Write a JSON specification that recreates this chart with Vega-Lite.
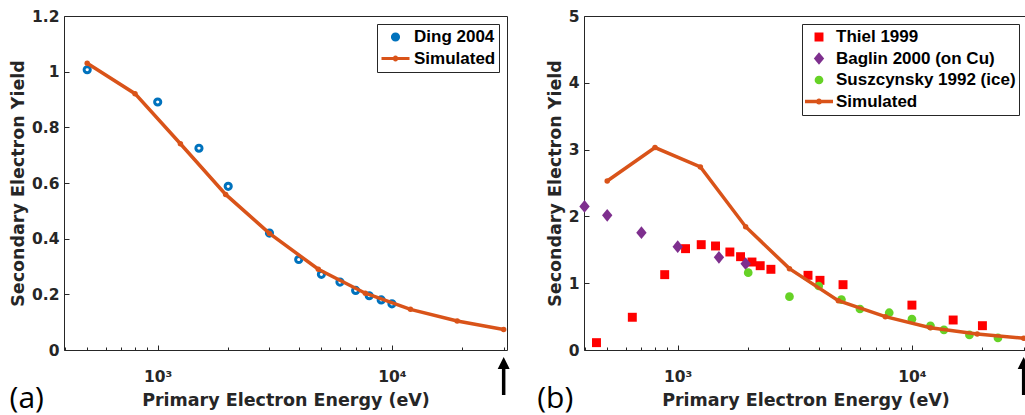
{
  "$schema": "https://vega.github.io/schema/vega-lite/v6.json",
  "padding": {"left": 9, "top": 8, "right": 0, "bottom": 0},
  "spacing": 24,
  "resolve": {"scale": {"color": "independent", "shape": "independent", "size": "independent", "x": "independent", "y": "independent"}, "legend": {"color": "independent"}},
  "config": {
    "font": "Liberation Sans",
    "view": {"stroke": "#262626", "strokeWidth": 1},
    "axis": {
      "domain": false, "grid": false,
      "tickColor": "#262626", "tickWidth": 1,
      "labelColor": "#262626", "labelFont": "DejaVu Sans", "labelFontWeight": "bold", "labelFontSize": 15.5,
      "titleColor": "#262626", "titleFont": "DejaVu Sans", "titleFontWeight": "bold", "titleFontSize": 17.5,
      "labelOverlap": false, "labelFlush": false, "labelBound": false
    },
    "legend": {
      "labelFont": "Liberation Sans", "labelFontWeight": "bold", "labelFontSize": 17, "labelColor": "black",
      "strokeColor": "#262626", "fillColor": "white", "padding": 3, "cornerRadius": 0,
      "labelOffset": 3, "symbolOffset": 0,
      "clipHeight": 20, "rowPadding": 1.5, "labelLimit": 400, "offset": 8, "orient": "top-right", "title": null
    }
  },
  "hconcat": [
    {
      "width": 443, "height": 334,
      "title": {"text": "(a)", "orient": "bottom", "anchor": "start", "frame": "bounds", "font": "Open Sans", "fontSize": 30, "fontWeight": "normal", "color": "black", "offset": -25},
      "resolve": {"axis": {"x": "independent", "y": "independent"}},
      "layer": [
        {
          "data": {"values": [
            {"E": 500, "Y": 1.007, "series": "Ding 2004"},
            {"E": 1000, "Y": 0.891, "series": "Ding 2004"},
            {"E": 1500, "Y": 0.725, "series": "Ding 2004"},
            {"E": 2000, "Y": 0.588, "series": "Ding 2004"},
            {"E": 3000, "Y": 0.42, "series": "Ding 2004"},
            {"E": 4000, "Y": 0.325, "series": "Ding 2004"},
            {"E": 5000, "Y": 0.272, "series": "Ding 2004"},
            {"E": 6000, "Y": 0.244, "series": "Ding 2004"},
            {"E": 7000, "Y": 0.214, "series": "Ding 2004"},
            {"E": 8000, "Y": 0.195, "series": "Ding 2004"},
            {"E": 9000, "Y": 0.18, "series": "Ding 2004"},
            {"E": 10000, "Y": 0.166, "series": "Ding 2004"}
          ]},
          "mark": {"type": "point", "filled": false, "strokeWidth": 3, "opacity": 1},
          "encoding": {
            "x": {"field": "E", "type": "quantitative", "scale": {"type": "log", "domain": [398, 31000], "nice": false},
              "axis": {"orient": "bottom", "values": [400,500,600,700,800,900,1000,2000,3000,4000,5000,6000,7000,8000,9000,10000,20000,30000],
                "labelExpr": "datum.value == 1000 ? '10³' : datum.value == 10000 ? '10⁴' : ''",
                "tickSize": {"condition": {"test": "datum.value == 1000 || datum.value == 10000", "value": -5}, "value": -3},
                "labelPadding": 24, "title": "Primary Electron Energy (eV)", "titlePadding": 5}},
            "y": {"field": "Y", "type": "quantitative", "scale": {"domain": [0, 1.2], "nice": false, "zero": false},
              "axis": {"orient": "left", "values": [0, 0.2, 0.4, 0.6, 0.8, 1, 1.2], "format": "~g", "tickSize": -5, "labelPadding": 10,
                "title": "Secondary Electron Yield", "titlePadding": 4}},
            "color": {"field": "series", "type": "nominal",
              "scale": {"domain": ["Ding 2004", "Simulated"], "range": ["#0072BD", "#D95319"]},
              "legend": {"symbolStrokeWidth": 3}},
            "shape": {"field": "series", "type": "nominal", "legend": null,
              "scale": {"domain": ["Ding 2004", "Simulated"], "range": ["circle", "M-1,0H1M0.1,0A0.1,0.1 0 1 1 -0.1,0A0.1,0.1 0 1 1 0.1,0"]}},
            "size": {"field": "series", "type": "nominal", "legend": null,
              "scale": {"type": "ordinal", "domain": ["Ding 2004", "Simulated"], "range": [38, 784]}}
          }
        },
        {
          "data": {"values": [
            {"E": 500, "Y": 1.03, "series": "Simulated"},
            {"E": 800, "Y": 0.921, "series": "Simulated"},
            {"E": 1250, "Y": 0.741, "series": "Simulated"},
            {"E": 1950, "Y": 0.559, "series": "Simulated"},
            {"E": 3000, "Y": 0.419, "series": "Simulated"},
            {"E": 4850, "Y": 0.29, "series": "Simulated"},
            {"E": 7700, "Y": 0.204, "series": "Simulated"},
            {"E": 12000, "Y": 0.146, "series": "Simulated"},
            {"E": 19000, "Y": 0.104, "series": "Simulated"},
            {"E": 30000, "Y": 0.074, "series": "Simulated"}
          ]},
          "layer": [
            {"mark": {"type": "line", "strokeWidth": 3.5},
             "encoding": {
               "x": {"field": "E", "type": "quantitative", "scale": {"type": "log", "domain": [398, 31000], "nice": false}, "axis": null},
               "y": {"field": "Y", "type": "quantitative", "scale": {"domain": [0, 1.2], "nice": false, "zero": false}, "axis": null},
               "color": {"field": "series", "type": "nominal", "legend": null}}},
            {"mark": {"type": "point", "filled": true, "size": 30, "shape": "circle", "opacity": 1},
             "encoding": {
               "x": {"field": "E", "type": "quantitative", "scale": {"type": "log", "domain": [398, 31000], "nice": false}, "axis": null},
               "y": {"field": "Y", "type": "quantitative", "scale": {"domain": [0, 1.2], "nice": false, "zero": false}, "axis": null},
               "color": {"field": "series", "type": "nominal", "legend": null}}},
            {"mark": {"type": "point", "opacity": 0},
             "encoding": {
               "x": {"field": "E", "type": "quantitative", "scale": {"type": "log", "domain": [398, 31000], "nice": false},
                 "axis": {"orient": "top", "values": [400,500,600,700,800,900,1000,2000,3000,4000,5000,6000,7000,8000,9000,10000,20000,30000],
                   "labels": false, "title": null,
                   "tickSize": {"condition": {"test": "datum.value == 1000 || datum.value == 10000", "value": -5}, "value": -3}}},
               "y": {"field": "Y", "type": "quantitative", "scale": {"domain": [0, 1.2], "nice": false, "zero": false},
                 "axis": {"orient": "right", "values": [0, 0.2, 0.4, 0.6, 0.8, 1, 1.2], "labels": false, "title": null, "tickSize": -5}}}}
          ]
        },
        {
          "data": {"values": [{"E": 30000, "Ytop": -0.0503, "Ybot": -0.1617, "Yhead": -0.0467}]},
          "layer": [
            {"mark": {"type": "rule", "strokeWidth": 3.5, "color": "black"},
             "encoding": {
               "x": {"field": "E", "type": "quantitative", "scale": {"type": "log", "domain": [398, 31000], "nice": false}, "axis": null},
               "y": {"field": "Ytop", "type": "quantitative", "scale": {"domain": [0, 1.2], "nice": false, "zero": false}, "axis": null},
               "y2": {"field": "Ybot"}}},
            {"mark": {"type": "point", "filled": true, "color": "black", "opacity": 1, "size": 144, "shape": "M0,-1L1,1L-1,1Z"},
             "encoding": {
               "x": {"field": "E", "type": "quantitative", "scale": {"type": "log", "domain": [398, 31000], "nice": false}, "axis": null},
               "y": {"field": "Yhead", "type": "quantitative", "scale": {"domain": [0, 1.2], "nice": false, "zero": false}, "axis": null}}}
          ]
        }
      ]
    },
    {
      "width": 443, "height": 334,
      "title": {"text": "(b)", "orient": "bottom", "anchor": "start", "frame": "bounds", "font": "Open Sans", "fontSize": 30, "fontWeight": "normal", "color": "black", "offset": -25, "dx": -9},
      "resolve": {"axis": {"x": "independent", "y": "independent"}},
      "layer": [
        {
          "data": {"values": [
            {"E": 450, "Y": 0.11, "series": "Thiel 1999"},
            {"E": 640, "Y": 0.49, "series": "Thiel 1999"},
            {"E": 880, "Y": 1.128, "series": "Thiel 1999"},
            {"E": 1080, "Y": 1.517, "series": "Thiel 1999"},
            {"E": 1260, "Y": 1.577, "series": "Thiel 1999"},
            {"E": 1450, "Y": 1.557, "series": "Thiel 1999"},
            {"E": 1670, "Y": 1.467, "series": "Thiel 1999"},
            {"E": 1855, "Y": 1.397, "series": "Thiel 1999"},
            {"E": 2075, "Y": 1.317, "series": "Thiel 1999"},
            {"E": 2250, "Y": 1.262, "series": "Thiel 1999"},
            {"E": 2500, "Y": 1.208, "series": "Thiel 1999"},
            {"E": 3600, "Y": 1.118, "series": "Thiel 1999"},
            {"E": 4050, "Y": 1.043, "series": "Thiel 1999"},
            {"E": 5080, "Y": 0.978, "series": "Thiel 1999"},
            {"E": 10000, "Y": 0.672, "series": "Thiel 1999"},
            {"E": 15000, "Y": 0.449, "series": "Thiel 1999"},
            {"E": 20000, "Y": 0.364, "series": "Thiel 1999"},
            {"E": 400, "Y": 2.15, "series": "Baglin 2000 (on Cu)"},
            {"E": 500, "Y": 2.016, "series": "Baglin 2000 (on Cu)"},
            {"E": 700, "Y": 1.757, "series": "Baglin 2000 (on Cu)"},
            {"E": 1000, "Y": 1.547, "series": "Baglin 2000 (on Cu)"},
            {"E": 1500, "Y": 1.387, "series": "Baglin 2000 (on Cu)"},
            {"E": 1950, "Y": 1.292, "series": "Baglin 2000 (on Cu)"},
            {"E": 2000, "Y": 1.158, "series": "Suszcynsky 1992 (ice)"},
            {"E": 3000, "Y": 0.798, "series": "Suszcynsky 1992 (ice)"},
            {"E": 4000, "Y": 0.958, "series": "Suszcynsky 1992 (ice)"},
            {"E": 5000, "Y": 0.755, "series": "Suszcynsky 1992 (ice)"},
            {"E": 6000, "Y": 0.614, "series": "Suszcynsky 1992 (ice)"},
            {"E": 8000, "Y": 0.558, "series": "Suszcynsky 1992 (ice)"},
            {"E": 10000, "Y": 0.462, "series": "Suszcynsky 1992 (ice)"},
            {"E": 12000, "Y": 0.362, "series": "Suszcynsky 1992 (ice)"},
            {"E": 13700, "Y": 0.302, "series": "Suszcynsky 1992 (ice)"},
            {"E": 17600, "Y": 0.225, "series": "Suszcynsky 1992 (ice)"},
            {"E": 23300, "Y": 0.18, "series": "Suszcynsky 1992 (ice)"}
          ]},
          "mark": {"type": "point", "filled": true, "opacity": 1, "strokeWidth": 0},
          "encoding": {
            "x": {"field": "E", "type": "quantitative", "scale": {"type": "log", "domain": [398, 31000], "nice": false},
              "axis": {"orient": "bottom", "values": [400,500,600,700,800,900,1000,2000,3000,4000,5000,6000,7000,8000,9000,10000,20000,30000],
                "labelExpr": "datum.value == 1000 ? '10³' : datum.value == 10000 ? '10⁴' : ''",
                "tickSize": {"condition": {"test": "datum.value == 1000 || datum.value == 10000", "value": -5}, "value": -3},
                "labelPadding": 24, "title": "Primary Electron Energy (eV)", "titlePadding": 5}},
            "y": {"field": "Y", "type": "quantitative", "scale": {"domain": [0, 5], "nice": false, "zero": false},
              "axis": {"orient": "left", "values": [0, 1, 2, 3, 4, 5], "format": "~g", "tickSize": -5, "labelPadding": 10,
                "title": "Secondary Electron Yield", "titlePadding": 4}},
            "color": {"field": "series", "type": "nominal",
              "scale": {"domain": ["Thiel 1999", "Baglin 2000 (on Cu)", "Suszcynsky 1992 (ice)", "Simulated"], "range": ["#FF0000", "#7E2F8E", "#66D226", "#D95319"]},
              "legend": {"symbolStrokeWidth": 0}},
            "shape": {"field": "series", "type": "nominal", "legend": null,
              "scale": {"domain": ["Thiel 1999", "Baglin 2000 (on Cu)", "Suszcynsky 1992 (ice)", "Simulated"], "range": ["square", "M0,-1L0.82,0L0,1L-0.82,0Z", "circle", "M-1,-0.13H1V0.13H-1Z M0.22,0A0.22,0.22 0 1 1 -0.22,0A0.22,0.22 0 1 1 0.22,0Z"]}},
            "size": {"field": "series", "type": "nominal", "legend": null,
              "scale": {"type": "ordinal", "domain": ["Thiel 1999", "Baglin 2000 (on Cu)", "Suszcynsky 1992 (ice)", "Simulated"], "range": [80, 160, 76, 784]}}
          }
        },
        {
          "data": {"values": [
            {"E": 500, "Y": 2.53, "series": "Simulated"},
            {"E": 800, "Y": 3.03, "series": "Simulated"},
            {"E": 1250, "Y": 2.74, "series": "Simulated"},
            {"E": 1950, "Y": 1.846, "series": "Simulated"},
            {"E": 3000, "Y": 1.218, "series": "Simulated"},
            {"E": 4850, "Y": 0.738, "series": "Simulated"},
            {"E": 7700, "Y": 0.499, "series": "Simulated"},
            {"E": 12000, "Y": 0.334, "series": "Simulated"},
            {"E": 19000, "Y": 0.24, "series": "Simulated"},
            {"E": 30000, "Y": 0.175, "series": "Simulated"}
          ]},
          "layer": [
            {"mark": {"type": "line", "strokeWidth": 3.5},
             "encoding": {
               "x": {"field": "E", "type": "quantitative", "scale": {"type": "log", "domain": [398, 31000], "nice": false}, "axis": null},
               "y": {"field": "Y", "type": "quantitative", "scale": {"domain": [0, 5], "nice": false, "zero": false}, "axis": null},
               "color": {"field": "series", "type": "nominal", "legend": null}}},
            {"mark": {"type": "point", "filled": true, "size": 30, "shape": "circle", "opacity": 1},
             "encoding": {
               "x": {"field": "E", "type": "quantitative", "scale": {"type": "log", "domain": [398, 31000], "nice": false}, "axis": null},
               "y": {"field": "Y", "type": "quantitative", "scale": {"domain": [0, 5], "nice": false, "zero": false}, "axis": null},
               "color": {"field": "series", "type": "nominal", "legend": null}}},
            {"mark": {"type": "point", "opacity": 0},
             "encoding": {
               "x": {"field": "E", "type": "quantitative", "scale": {"type": "log", "domain": [398, 31000], "nice": false},
                 "axis": {"orient": "top", "values": [400,500,600,700,800,900,1000,2000,3000,4000,5000,6000,7000,8000,9000,10000,20000,30000],
                   "labels": false, "title": null,
                   "tickSize": {"condition": {"test": "datum.value == 1000 || datum.value == 10000", "value": -5}, "value": -3}}},
               "y": {"field": "Y", "type": "quantitative", "scale": {"domain": [0, 5], "nice": false, "zero": false},
                 "axis": {"orient": "right", "values": [0, 1, 2, 3, 4, 5], "labels": false, "title": null, "tickSize": -5}}}}
          ]
        },
        {
          "data": {"values": [{"E": 30000, "Ytop": -0.21, "Ybot": -0.674, "Yhead": -0.195}]},
          "layer": [
            {"mark": {"type": "rule", "strokeWidth": 3.5, "color": "black"},
             "encoding": {
               "x": {"field": "E", "type": "quantitative", "scale": {"type": "log", "domain": [398, 31000], "nice": false}, "axis": null},
               "y": {"field": "Ytop", "type": "quantitative", "scale": {"domain": [0, 5], "nice": false, "zero": false}, "axis": null},
               "y2": {"field": "Ybot"}}},
            {"mark": {"type": "point", "filled": true, "color": "black", "opacity": 1, "size": 144, "shape": "M0,-1L1,1L-1,1Z"},
             "encoding": {
               "x": {"field": "E", "type": "quantitative", "scale": {"type": "log", "domain": [398, 31000], "nice": false}, "axis": null},
               "y": {"field": "Yhead", "type": "quantitative", "scale": {"domain": [0, 5], "nice": false, "zero": false}, "axis": null}}}
          ]
        }
      ]
    }
  ]
}
